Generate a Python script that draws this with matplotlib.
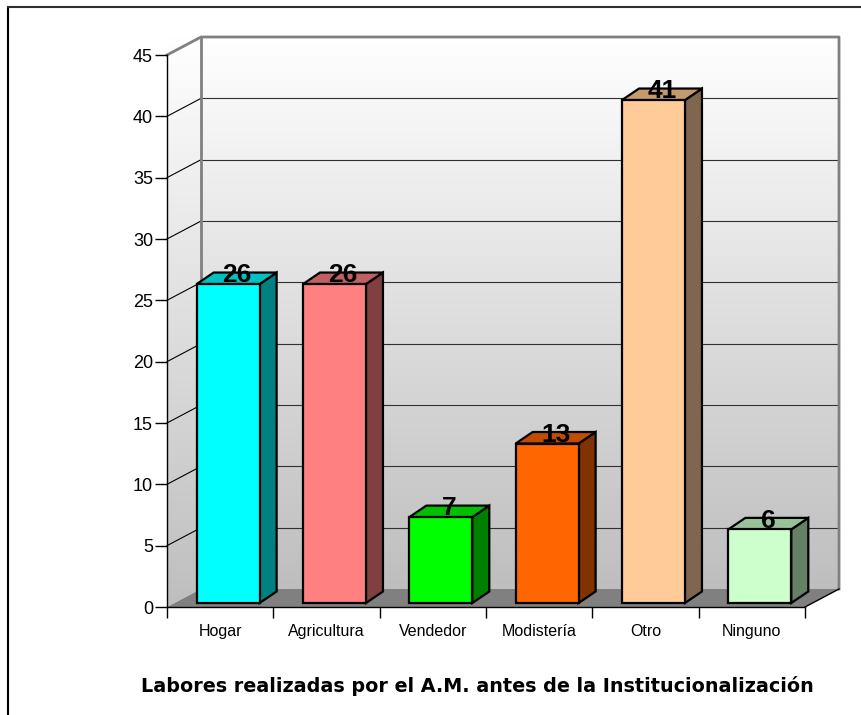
import numpy as np
import matplotlib
matplotlib.use('Agg')
import matplotlib.pyplot as plt
from matplotlib.patches import Polygon, Rectangle
from matplotlib.colors import LinearSegmentedColormap

plt.rcParams['font.family'] = ['Liberation Sans', 'DejaVu Sans']

# data
categories = ['Hogar', 'Agricultura', 'Vendedor', 'Modistería', 'Otro', 'Ninguno']
values = [26, 26, 7, 13, 41, 6]
front_colors = ['#00FFFF', '#FF8080', '#00FF00', '#FF6600', '#FFCC99', '#CCFFCC']
side_colors = ['#008080', '#804040', '#008000', '#803300', '#806650', '#668066']
top_colors = ['#00C0C0', '#C06060', '#00C000', '#C04C00', '#C49A6C', '#99C099']
title = 'Labores realizadas por el A.M. antes de la Institucionalización'

fig = plt.figure(figsize=(8.62, 7.15), dpi=100)
ax = fig.add_axes([167/862, (715-607)/715, 638/862, 552/715])
ax.set_xlim(0, 6)
ax.set_ylim(0, 45)

# 3d offsets (data units)
wdx, wdy = 0.32, 1.467    # wall depth
boff_x, boff_y = 0.075, 0.326  # bar position in depth
bdx, bdy = 0.16, 0.94     # bar depth
bw = 0.592

# walls with gradient, white at top
grad = np.linspace(0, 1, 256).reshape(-1, 1)
cmap = LinearSegmentedColormap.from_list('wall', ['#ffffff', '#bebebe'])
ax.imshow(grad, cmap=cmap, vmin=0, vmax=1, aspect='auto',
          extent=(0, 6 + wdx, wdy, 45 + wdy), origin='upper', zorder=0, clip_on=False)
side = Polygon([(0, 0), (wdx, wdy), (wdx, 45 + wdy), (0, 45)], closed=True,
               facecolor='none', edgecolor='none', transform=ax.transData)
ax.add_patch(side)
img2 = ax.imshow(grad, cmap=cmap, vmin=0, vmax=1, aspect='auto',
                 extent=(0, wdx, 0, 45 + wdy), origin='upper', zorder=0)
img2.set_clip_path(side)

# floor
ax.add_patch(Polygon([(0, 0), (6, 0), (6 + wdx, wdy), (wdx, wdy)], closed=True,
                     facecolor='#808080', edgecolor='none', zorder=1, clip_on=False))

# gridlines
for v in range(5, 45, 5):
    ax.plot([wdx, 6 + wdx], [v + wdy, v + wdy], color='#303030', lw=0.8, zorder=1, clip_on=False)
    ax.plot([0, wdx], [v, v + wdy], color='black', lw=0.8, zorder=1, clip_on=False)
# wall borders
ax.plot([0, wdx, 6 + wdx, 6 + wdx], [45, 45 + wdy, 45 + wdy, wdy], color='#808080', lw=2,
        zorder=1, clip_on=False)
ax.plot([wdx, wdx], [wdy, 45 + wdy], color='#808080', lw=2, zorder=1, clip_on=False)
ax.plot([6, 6 + wdx], [0, wdy], color='black', lw=1, zorder=1, clip_on=False)

# bars
for i, v in enumerate(values):
    x0 = i + 0.5 - bw / 2 + boff_x
    y0 = boff_y
    y1 = v + boff_y
    ax.add_patch(Polygon([(x0 + bw, y0), (x0 + bw + bdx, y0 + bdy), (x0 + bw + bdx, y1 + bdy),
                          (x0 + bw, y1)], closed=True, facecolor=side_colors[i],
                         edgecolor='black', lw=1.6, zorder=3, clip_on=False))
    ax.add_patch(Polygon([(x0, y1), (x0 + bdx, y1 + bdy), (x0 + bw + bdx, y1 + bdy),
                          (x0 + bw, y1)], closed=True, facecolor=top_colors[i],
                         edgecolor='black', lw=1.6, zorder=3, clip_on=False))
    ax.add_patch(Rectangle((x0, y0), bw, v, facecolor=front_colors[i], edgecolor='black',
                           lw=1.6, zorder=4, clip_on=False))
    ax.text(x0 + bw / 2 + bdx / 2, y1 + 0.15, str(v), ha='center', va='baseline',
            fontsize=19, fontweight='bold', zorder=5)

# axes styling
for s in ['top', 'right']:
    ax.spines[s].set_visible(False)
ax.spines['left'].set_linewidth(1)
ax.spines['bottom'].set_linewidth(1)
ax.spines['left'].set_zorder(6)
ax.spines['bottom'].set_zorder(6)
ax.set_yticks(range(0, 46, 5))
ax.tick_params(axis='y', length=9, width=1, labelsize=13, pad=1)
ax.set_xticks(range(0, 7))
ax.set_xticklabels([])
ax.tick_params(axis='x', which='major', length=8, width=1)
ax.set_xticks([i + 0.5 for i in range(6)], minor=True)
ax.set_xticklabels(categories, minor=True, fontsize=11.5)
ax.tick_params(axis='x', which='minor', length=0, pad=12)
ax.patch.set_visible(False)

fig.text(477/862, (715-686)/715, title, ha='center', va='center', fontsize=13.8,
         fontweight='bold', family=['DejaVu Sans'])

# outer frame (top and left)
fig.add_artist(plt.Line2D([8/862, 8/862], [0, 1 - 7/715], color='black', lw=1.5,
                          transform=fig.transFigure))
fig.add_artist(plt.Line2D([8/862, 1], [1 - 7/715, 1 - 7/715], color='#303030', lw=1.5,
                          transform=fig.transFigure))

fig.savefig('out.png', dpi=100)
